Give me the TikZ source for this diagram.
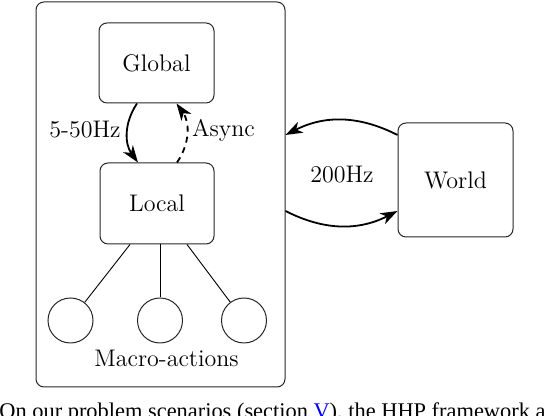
\documentclass[tikz,border=0pt]{standalone}
\usepackage{fontspec}
\newfontfamily\capfont{Liberation Serif}
\usetikzlibrary{arrows.meta,calc}
\begin{document}
\begin{tikzpicture}[x=0.5pt,y=0.5pt,
  font=\fontsize{12}{14}\selectfont,
  box/.style={draw=black!85,line width=0.5pt,rounded corners=4pt,inner sep=0pt},
  act/.style={draw=black!85,line width=0.5pt,circle,minimum size=22.5pt,inner sep=0pt},
  link/.style={line width=0.45pt},
  arr/.style={line width=0.9pt,-{Stealth[length=8.5pt,width=6pt,inset=2.5pt]}},
  lbl/.style={inner sep=0pt}]
\clip (0,0) rectangle (546,416);
\node[box,minimum width=124.5pt,minimum height=192.5pt] (outer) at (160.5,221.5) {};
\node[box,minimum width=57.5pt,minimum height=40pt] (global) at (156.5,353) {Global};
\node[box,minimum width=57pt,minimum height=40.5pt] (local) at (157,212.5) {Local};
\node[box,minimum width=57.5pt,minimum height=57pt] (world) at (455.5,236) {World};
\node[act] (c1) at (70.5,95.5) {};
\node[act] (c2) at (160,95.5) {};
\node[act] (c3) at (244,95.5) {};
\node[lbl] (macro) at (166.5,58) {Macro-actions};
\node[lbl] (f1) at (85,286) {5-50Hz};
\node[lbl] (as) at (223.5,286) {Async};
\node[lbl] (f2) at (342,241) {200Hz};
% hierarchy arrows
\draw[arr] ([xshift=-9.75pt]global.south) to[bend right=35] ([xshift=-9.5pt]local.north);
\draw[arr,dashed,dash pattern=on 3pt off 2.5pt] ([xshift=10pt]local.north) to[bend right=35] ([xshift=10pt]global.south);
% links to macro-actions
\draw[link] ([xshift=-13.5pt]local.south) -- (c1);
\draw[link] (c2 |- local.south) -- (c2);
\draw[link] ([xshift=15pt]local.south) -- (c3);
% world loop
\coordinate (wt) at ([yshift=22.5pt]world.west);
\coordinate (wb) at ([yshift=-15.5pt]world.west);
\draw[arr] (wt) to[bend right=27] (outer.east |- wt);
\draw[arr] (outer.east |- wb) to[bend right=27] (wb);
% caption fragment
\node[anchor=base west,inner sep=0pt,font=\capfont\fontsize{11.2}{13}\selectfont] (cap) at (-1,-3)
  {On our problem scenarios (section \textcolor{blue}{V}), the HHP framework achieves};
\end{tikzpicture}
\end{document}
